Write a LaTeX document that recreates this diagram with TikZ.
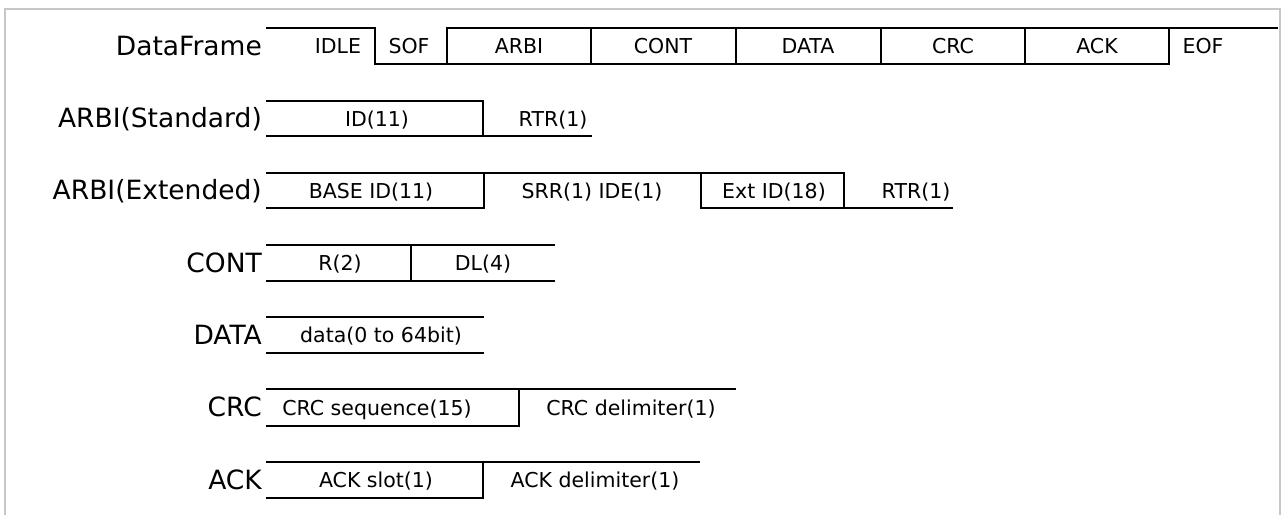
\documentclass[tikz,border=0pt]{standalone}
\usepackage{fontspec}
\setmainfont{DejaVu Sans}
\begin{document}
\begin{tikzpicture}[x=1pt,y=-1pt,
  sig/.style={line width=1.8pt, line join=miter},
  seg/.style={font=\fontsize{20.5}{20.5}\selectfont, anchor=base, inner sep=0pt},
  lbl/.style={font=\fontsize{26.5}{26.5}\selectfont, anchor=base east, inner sep=0pt}]
\useasboundingbox (0,0) rectangle (1284,515);
\draw[black!22, line width=1.5pt] (5,515) -- (5,9) -- (1280,9) -- (1280,515);

% Row 1: DataFrame
\node[lbl] (l1) at (262,55.5) {DataFrame};
\draw[sig] (266,28) -- (375,28) -- (375,64) -- (1169,64) -- (1169,28);
\draw[sig] (447,64) -- (447,28) -- (1278,28);
\foreach \xx in {591,736,881,1025} \draw[sig] (\xx,28) -- (\xx,64);
\node[seg] (idle) at (338,53.5) {IDLE};
\node[seg] (sof) at (409,53.5) {SOF};
\node[seg] (arbi) at (519,53.5) {ARBI};
\node[seg] (cont) at (663,53.5) {CONT};
\node[seg] (data) at (808,53.5) {DATA};
\node[seg] (crc) at (953,53.5) {CRC};
\node[seg] (ack) at (1097,53.5) {ACK};
\node[seg] (eof) at (1203,53.5) {EOF};

% Row 2: ARBI(Standard)
\node[lbl] (l2) at (262,127.5) {ARBI(Standard)};
\draw[sig] (266,101) -- (483,101) -- (483,136) -- (592,136);
\draw[sig] (266,136) -- (483,136);
\node[seg] (sid) at (377,126) {ID(11)};
\node[seg] (srtr) at (553,126) {RTR(1)};

% Row 3: ARBI(Extended)
\node[lbl] (l3) at (262,199.5) {ARBI(Extended)};
\draw[sig] (266,173) -- (844,173) -- (844,208) -- (953,208);
\draw[sig] (266,208) -- (484,208) -- (484,173);
\draw[sig] (701,173) -- (701,208) -- (844,208);
\node[seg] (ebase) at (371,198) {BASE ID(11)};
\node[seg] (esrr) at (592,198) {SRR(1) IDE(1)};
\node[seg] (eext) at (774,198) {Ext ID(18)};
\node[seg] (ertr) at (916,198) {RTR(1)};

% Row 4: CONT
\node[lbl] (l4) at (262,272.5) {CONT};
\draw[sig] (266,245) -- (555,245);
\draw[sig] (266,281) -- (555,281);
\draw[sig] (411,245) -- (411,281);
\node[seg] (cr) at (340,270.5) {R(2)};
\node[seg] (cdl) at (483,270.5) {DL(4)};

% Row 5: DATA
\node[lbl] (l5) at (262,344.5) {DATA};
\draw[sig] (266,317) -- (484,317);
\draw[sig] (266,353) -- (484,353);
\node[seg] (dd) at (381,342.5) {data(0 to 64bit)};

% Row 6: CRC
\node[lbl] (l6) at (262,416.5) {CRC};
\draw[sig] (266,389) -- (736,389);
\draw[sig] (266,426) -- (519,426) -- (519,389);
\node[seg] (cseq) at (377,415) {CRC sequence(15)};
\node[seg] (cdel) at (631,415) {CRC delimiter(1)};

% Row 7: ACK
\node[lbl] (l7) at (262,489.5) {ACK};
\draw[sig] (266,462) -- (700,462);
\draw[sig] (266,498) -- (483,498) -- (483,462);
\node[seg] (aslot) at (376,487.5) {ACK slot(1)};
\node[seg] (adel) at (595,487.5) {ACK delimiter(1)};
\end{tikzpicture}
\end{document}
